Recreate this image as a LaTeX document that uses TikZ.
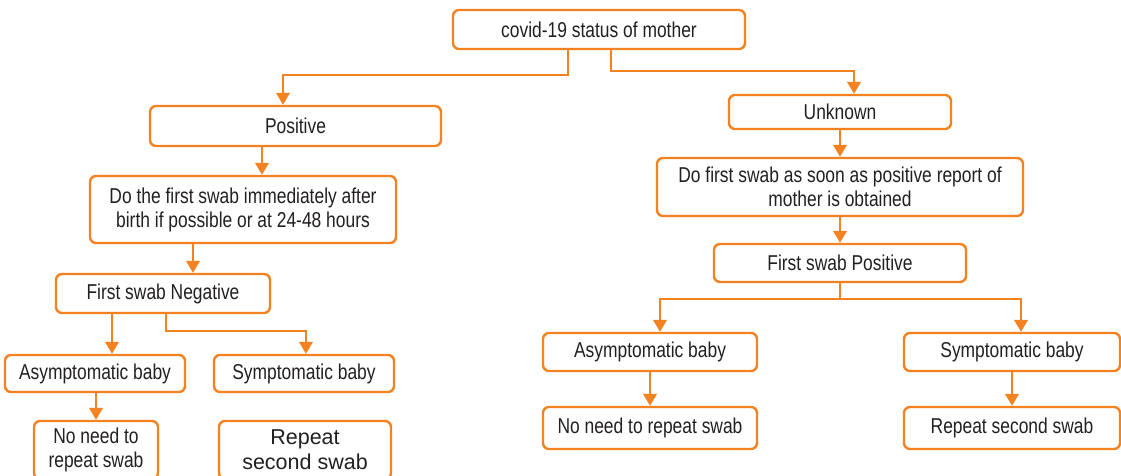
\documentclass[tikz,border=0pt]{standalone}
\usepackage{fontspec}
\setmainfont{Liberation Sans}[FakeStretch=0.81]
\newfontfamily\widefont{Liberation Sans}
\usetikzlibrary{arrows.meta}
\definecolor{boxorange}{RGB}{245,130,32}
\definecolor{txtgray}{RGB}{35,31,32}

\tikzset{
    box/.style={draw=boxorange,line width=2.4pt,rounded corners=6pt,align=center,
        text=txtgray,inner sep=0pt,font=\fontsize{21.5}{24}\selectfont},
    conn/.style={draw=boxorange,line width=2.4pt,-{Triangle[length=12pt,width=13.5pt]}},
}

\begin{document}
\begin{tikzpicture}[x=1pt,y=-1pt]
    \useasboundingbox (0,0) rectangle (1121,475);

    % top
    \node[box,minimum width=292pt,minimum height=39pt] (mother) at (599,29.5) {covid-19 status of mother};

    % left branch
    \node[box,minimum width=291pt,minimum height=40pt] (pos) at (295.5,126) {Positive};
    \node[box,minimum width=306pt,minimum height=67pt] (posswab) at (243,209.5)
        {Do the first swab immediately after\\birth if possible or at 24-48 hours};
    \node[box,minimum width=214pt,minimum height=39pt] (negswab) at (163,293.5) {First swab Negative};
    \node[box,minimum width=180pt,minimum height=37pt] (lasym) at (95,373.5) {Asymptomatic baby};
    \node[box,minimum width=180pt,minimum height=37pt] (lsym) at (304,373.5) {Symptomatic baby};
    \node[box,minimum width=124pt,minimum height=58pt] (lnorep) at (96,450) {No need to\\repeat swab};
    \node[box,minimum width=172pt,minimum height=58pt,font=\widefont\fontsize{21.5}{25}\selectfont]
        (lrep) at (305,450) {Repeat\\second swab};

    % right branch
    \node[box,minimum width=222pt,minimum height=34pt] (unk) at (840,112) {Unknown};
    \node[box,minimum width=366pt,minimum height=58pt] (unkswab) at (840,187)
        {Do first swab as soon as positive report of\\mother is obtained};
    \node[box,minimum width=252pt,minimum height=38pt] (posfirst) at (840,263) {First swab Positive};
    \node[box,minimum width=214pt,minimum height=38pt] (rasym) at (650,352) {Asymptomatic baby};
    \node[box,minimum width=216pt,minimum height=38pt] (rsym) at (1012,352) {Symptomatic baby};
    \node[box,minimum width=214pt,minimum height=42pt] (rnorep) at (650,428) {No need to repeat swab};
    \node[box,minimum width=216pt,minimum height=42pt] (rrep) at (1012,428) {Repeat second swab};

    % connectors
    \draw[conn] ([xshift=-31pt]mother.south) -- ++(0,25) -| ([xshift=-12.5pt]pos.north);
    \draw[conn] ([xshift=12pt]mother.south) -- ++(0,21) -| ([xshift=14pt]unk.north);

    \draw[conn] ([xshift=-33.5pt]pos.south) -- ([xshift=19pt]posswab.north);
    \draw[conn] ([xshift=-50pt]posswab.south) -- ([xshift=30pt]negswab.north);
    \draw[conn] ([xshift=-51pt]negswab.south) -- ([xshift=17pt]lasym.north);
    \draw[conn] ([xshift=3pt]negswab.south) -- ++(0,17) -| ([xshift=2pt]lsym.north);
    \draw[conn] ([xshift=1pt]lasym.south) -- (lnorep.north);

    \draw[conn] (unk.south) -- (unkswab.north);
    \draw[conn] (unkswab.south) -- (posfirst.north);
    \draw[conn] (posfirst.south) -- ++(0,16) -| ([xshift=10pt]rasym.north);
    \draw[conn] (posfirst.south) -- ++(0,16) -| ([xshift=9pt]rsym.north);
    \draw[conn] (rasym.south) -- (rnorep.north);
    \draw[conn] (rsym.south) -- (rrep.north);
\end{tikzpicture}
\end{document}
